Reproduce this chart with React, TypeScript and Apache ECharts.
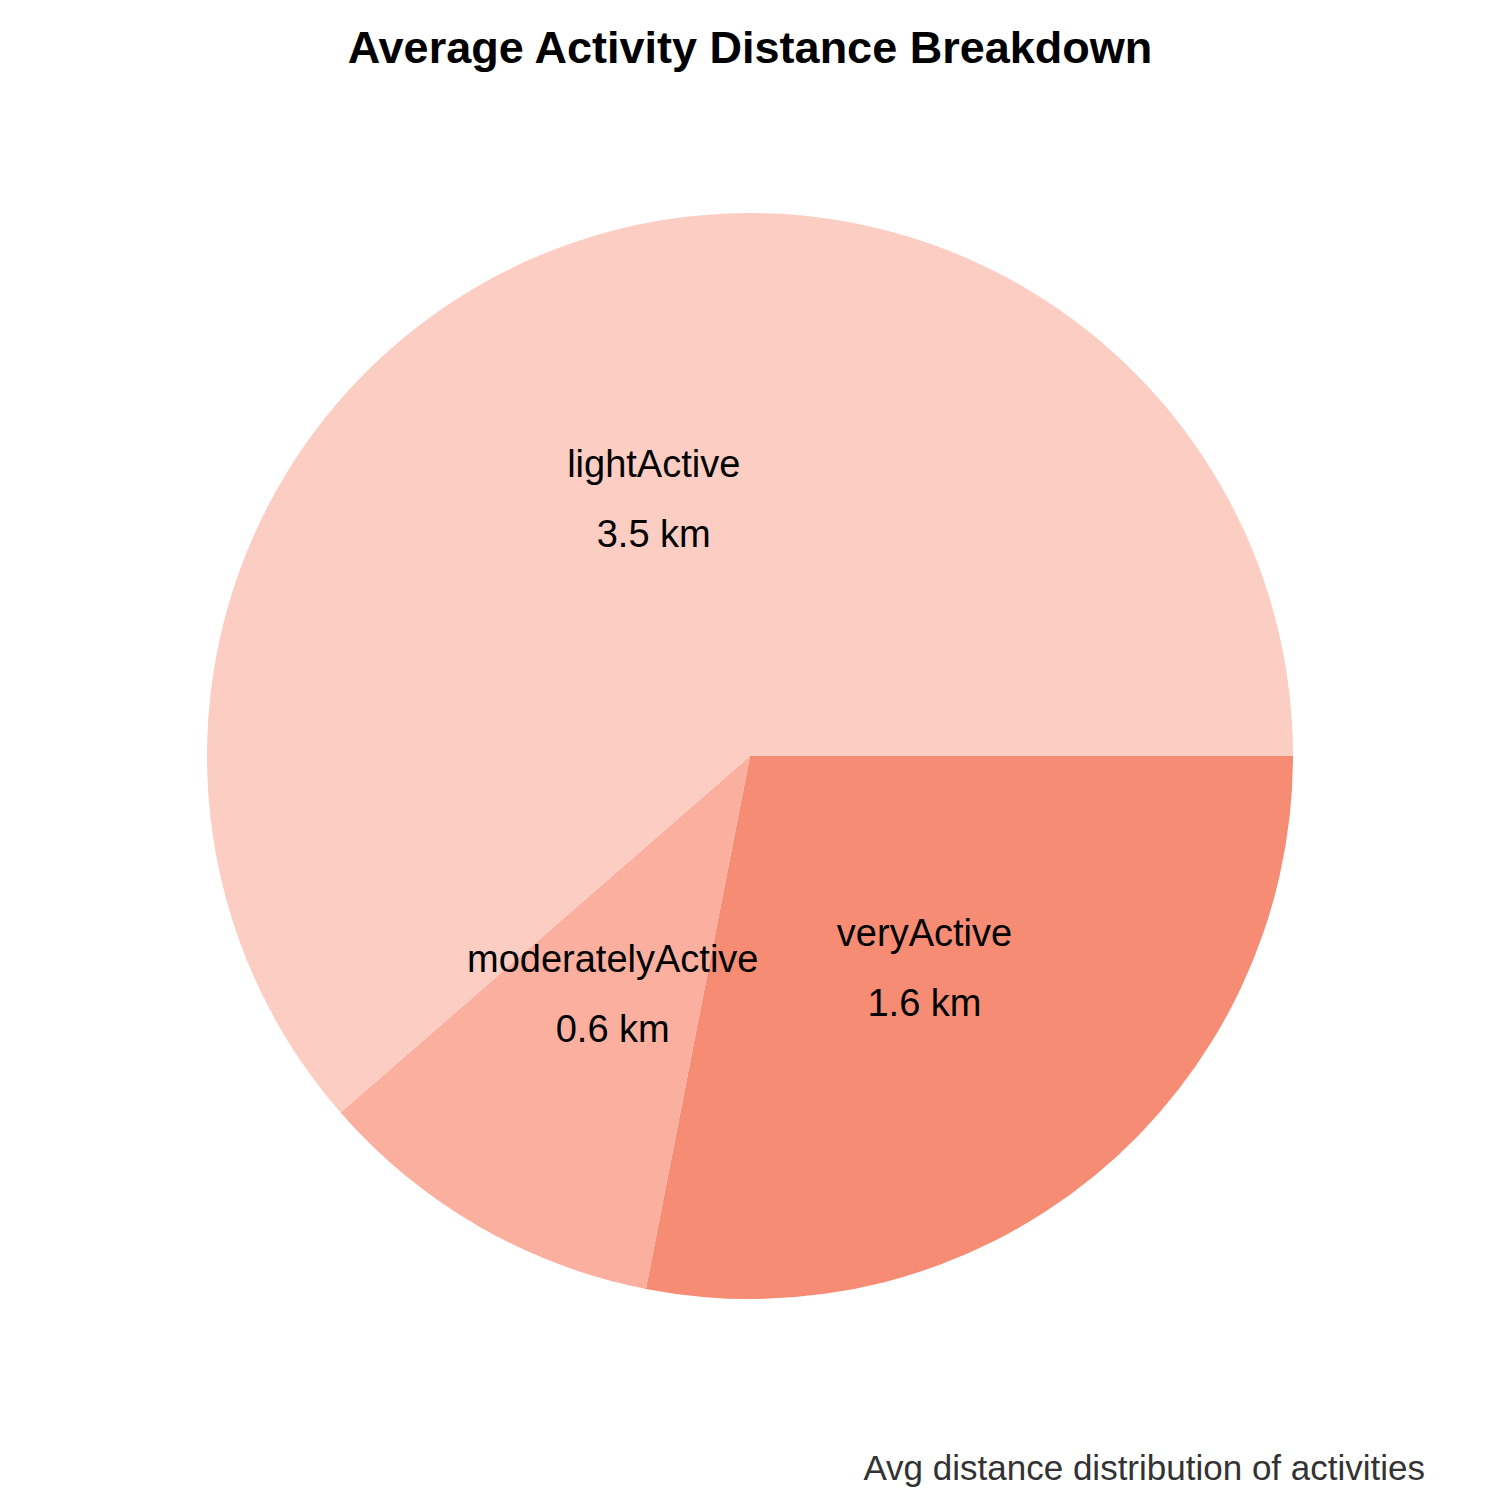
import { useRef, useEffect } from 'react';
import * as echarts from 'echarts';

const categories = ['veryActive', 'moderatelyActive', 'lightActive'];
const distances = [1.6, 0.6, 3.5];
const colors = ['#F78C75', '#FBB09F', '#FCCDC2'];

export default function App() {
  const chartRef = useRef<HTMLDivElement>(null);

  useEffect(() => {
    document.body.style.margin = '0';
    if (!chartRef.current) return;
    const chart = echarts.init(chartRef.current, undefined, { renderer: 'svg' });
    chart.setOption({
      animation: false,
      backgroundColor: '#ffffff',
      title: {
        text: 'Average Activity Distance Breakdown',
        left: 'center',
        top: 20,
        textStyle: {
          fontFamily: 'Liberation Sans',
          fontSize: 45,
          fontWeight: 'bold',
          color: '#000',
        },
      },
      graphic: [
        {
          type: 'text',
          right: 75,
          top: 1450,
          style: {
            text: 'Avg distance distribution of activities',
            font: '35px "Liberation Sans"',
            fill: '#333333',
          },
        },
      ],
      series: [
        {
          type: 'pie',
          center: [750, 756],
          radius: 543,
          startAngle: 0,
          clockwise: true,
          color: colors,
          label: {
            show: true,
            position: 'inside',
            formatter: '{b}\n{c} km',
            fontFamily: 'Liberation Sans',
            fontSize: 38,
            lineHeight: 70,
            color: '#000',
          },
          labelLine: { show: false },
          itemStyle: { borderWidth: 0 },
          emphasis: { disabled: true },
          data: categories.map((name, i) => ({ name, value: distances[i] })),
        },
      ],
    });
    return () => chart.dispose();
  }, []);

  return <div ref={chartRef} style={{ width: 1500, height: 1500 }} />;
}
